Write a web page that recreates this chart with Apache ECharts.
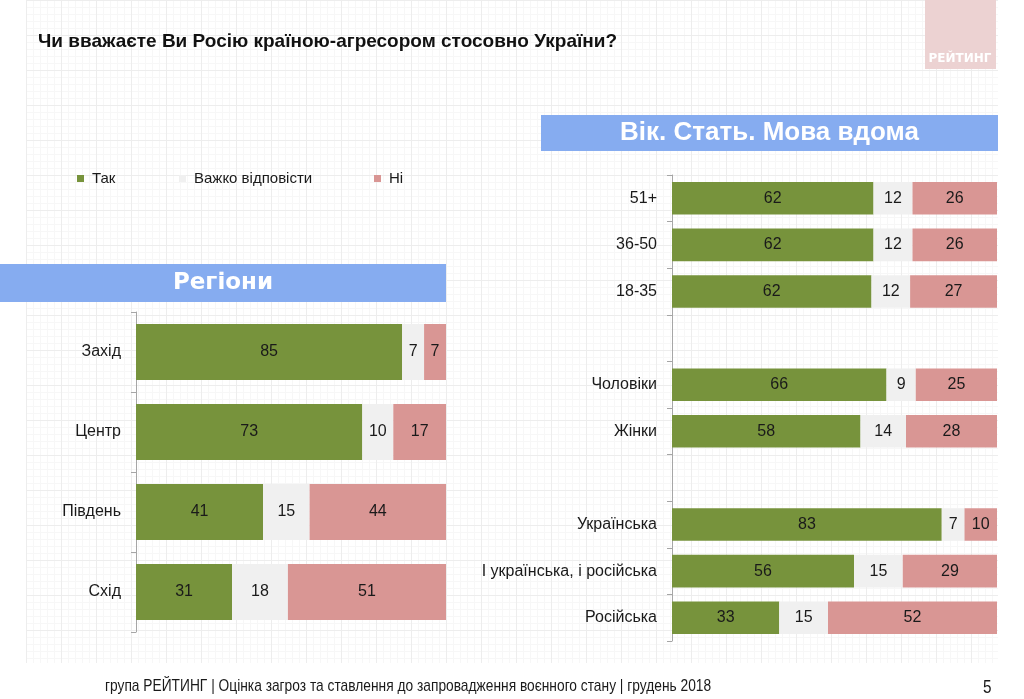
<!DOCTYPE html>
<html>
<head>
<meta charset="utf-8">
<script src="https://cdn.jsdelivr.net/npm/echarts@6/dist/echarts.min.js"></script>
<style>
  html, body { margin: 0; padding: 0; background: #fff; }
  #paper {
    position: absolute; left: 26px; top: 0; width: 972px; height: 663px;
    background-image:
      linear-gradient(#ededed 1px, transparent 1px),
      linear-gradient(90deg, #ededed 1px, transparent 1px),
      linear-gradient(#f7f7f7 1px, transparent 1px),
      linear-gradient(90deg, #f7f7f7 1px, transparent 1px);
    background-size: 35px 35px, 35px 35px, 7px 7px, 7px 7px;
  }
  #chart { position: absolute; left: 0; top: 0; width: 1024px; height: 699px; }
</style>
</head>
<body>
<div id="paper"></div>
<div id="chart"></div>
<script>
// --- data ---
const SERIES_NAMES = ['Так', 'Важко відповісти', 'Ні']

const regions = ['Захід', 'Центр', 'Південь', 'Схід']
const regionYes = [85, 73, 41, 31]
const regionHard = [7, 10, 15, 18]
const regionNo = [7, 17, 44, 51]

// blank rows separate the age / sex / language groups
const groups = ['51+', '36-50', '18-35', ' ', 'Чоловіки', 'Жінки', '  ', 'Українська', 'І українська, і російська', 'Російська']
const groupYes = [62, 62, 62, null, 66, 58, null, 83, 56, 33]
const groupHard = [12, 12, 12, null, 9, 14, null, 7, 15, 15]
const groupNo = [26, 26, 27, null, 25, 28, null, 10, 29, 52]

const COLORS = ['#77933c', '#f0f0f0', '#d99694']
const FONT = '"Liberation Sans Narrow", "Arial Narrow", "Liberation Sans", Arial, sans-serif'
const TEXT = '#1a1a1a'

// bars are drawn as 100% stacked, labels keep the surveyed numbers
function shares(parts, i) {
  const total = parts.reduce((s, p) => s + (p[i] || 0), 0)
  return parts.map((p) => (p[i] == null ? null : p[i] / total * 100))
}

function stackSeries(parts, gridIdx) {
  const n = parts[0].length
  const rows = []
  for (let i = 0; i < n; i++) rows.push(shares(parts, i))
  return parts.map((raw, k) => ({
    type: 'bar',
    name: SERIES_NAMES[k],
    stack: 'g' + gridIdx,
    xAxisIndex: gridIdx,
    yAxisIndex: gridIdx,
    barWidth: '70%',
    itemStyle: { color: COLORS[k] },
    label: {
      show: true,
      position: 'inside',
      color: TEXT,
      fontSize: 16,
      fontFamily: FONT,
      formatter: (p) => String(raw[p.dataIndex]),
    },
    emphasis: { disabled: true },
    data: rows.map((r) => r[k]),
  }))
}

function catAxis(data, gridIdx) {
  return {
    type: 'category',
    gridIndex: gridIdx,
    data,
    inverse: true,
    axisLine: { lineStyle: { color: '#a6a6a6', width: 1 } },
    axisTick: { show: true, length: 5, lineStyle: { color: '#a6a6a6' } },
    axisLabel: { color: TEXT, fontSize: 16, fontFamily: FONT, margin: 15 },
  }
}

function valAxis(gridIdx) {
  return { type: 'value', gridIndex: gridIdx, min: 0, max: 100, show: false, splitLine: { show: false } }
}

function legendItem(name, left) {
  return {
    data: [name],
    left,
    top: 171,
    padding: 0,
    icon: 'rect',
    itemWidth: 7,
    itemHeight: 7,
    selectedMode: false,
    textStyle: { color: TEXT, fontSize: 15, fontFamily: FONT, padding: [0, 0, 0, 3] },
  }
}

function band(x, y, w, h, text, font) {
  return {
    type: 'group',
    children: [
      { type: 'rect', shape: { x, y, width: w, height: h }, style: { fill: '#86acf0' } },
      {
        type: 'text', x: x + w / 2, y: y + h / 2,
        style: { text, fill: '#fff', font, align: 'center', verticalAlign: 'middle' },
      },
    ],
  }
}

const chart = echarts.init(document.getElementById('chart'))
chart.setOption({
  backgroundColor: 'transparent',
  animation: false,
  grid: [
    { left: 136, top: 312, width: 310, height: 320 },
    { left: 672, top: 175, width: 325, height: 466 },
  ],
  xAxis: [valAxis(0), valAxis(1)],
  yAxis: [catAxis(regions, 0), catAxis(groups, 1)],
  legend: [legendItem('Так', 77), legendItem('Важко відповісти', 179), legendItem('Ні', 374)],
  series: [
    ...stackSeries([regionYes, regionHard, regionNo], 0),
    ...stackSeries([groupYes, groupHard, groupNo], 1),
  ],
  graphic: [
    {
      type: 'text', x: 38, y: 42,
      style: {
        text: 'Чи вважаєте Ви Росію країною-агресором стосовно України?',
        fill: '#111', font: 'bold 19px ' + FONT, verticalAlign: 'middle',
      },
    },
    { type: 'rect', shape: { x: 925, y: 0, width: 71, height: 69 }, style: { fill: '#ecd2d2' } },
    {
      type: 'text', x: 960, y: 59,
      style: { text: 'РЕЙТИНГ', fill: '#fff', font: 'bold 12px "DejaVu Sans", sans-serif', align: 'center', verticalAlign: 'middle' },
    },
    band(541, 115, 457, 36, 'Вік. Стать. Мова вдома', 'bold 26px "Liberation Sans", Arial, sans-serif'),
    band(0, 264, 446, 38, 'Регіони', 'bold 23px "DejaVu Sans", sans-serif'),
    {
      type: 'text', x: 105, y: 686, scaleX: 0.81,
      style: {
        text: 'група РЕЙТИНГ | Оцінка загроз та ставлення до запровадження воєнного стану | грудень 2018',
        fill: TEXT, font: '17px ' + FONT, verticalAlign: 'middle',
      },
    },
    {
      type: 'text', x: 983, y: 688, scaleX: 0.85,
      style: { text: '5', fill: TEXT, font: '18px ' + FONT, verticalAlign: 'middle' },
    },
  ],
})
</script>
</body>
</html>
